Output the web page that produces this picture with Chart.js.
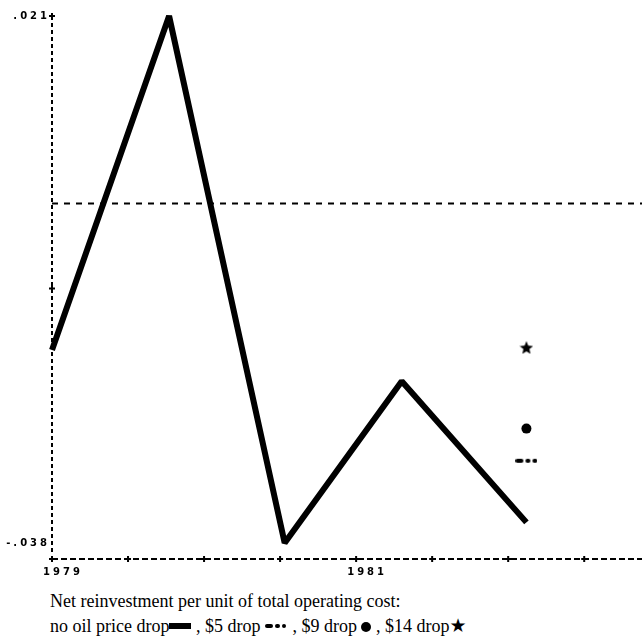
<!DOCTYPE html>
<html>
<head>
<meta charset="utf-8">
<script src="https://cdn.jsdelivr.net/npm/chart.js@4"></script>
<style>
  html, body { margin: 0; padding: 0; background: #fff; }
  #wrap { position: relative; width: 642px; height: 639px; overflow: hidden; }
  #c { position: absolute; left: 0; top: 0; }
  #caption {
    position: absolute; left: 50px; top: 589px;
    font-family: "Liberation Serif", "Times New Roman", serif;
    font-size: 18px; line-height: 25px; color: #000; white-space: nowrap;
  }
  .bar { display: inline-block; width: 22px; height: 6px; background: #000; vertical-align: 3px; }
  .dots { display: inline-block; width: 23px; height: 4px; vertical-align: 4px; line-height: 0; }
  .dots i { display: inline-block; height: 4px; background: #000; border-radius: 2px; margin-right: 2px; }
  .dot { display: inline-block; width: 10px; height: 10px; border-radius: 50%; background: #000; vertical-align: 0px; }
  .star { font-family: "DejaVu Sans", sans-serif; font-size: 19px; line-height: 18px; }
</style>
</head>
<body>
<div id="wrap">
  <canvas id="c" width="642" height="585"></canvas>
  <div id="caption">Net reinvestment per unit of total operating cost:<br>no oil price drop<span class="bar"></span> , $5 drop <span class="dots"><i style="width:8px"></i><i style="width:5px"></i><i style="width:4px"></i></span> , $9 drop <span class="dot"></span> , $14 drop<span class="star">★</span></div>
</div>
<script>
// Observation dates (fractional years) and net reinvestment per unit of operating cost
const years = [1979, 1979.77, 1980.53, 1981.3, 1982.12];
const noDrop = [-0.0164, 0.021, -0.038, -0.0199, -0.0357];

// Oil price drop scenarios, final period only
const scenarioYear = [1982.12];
const drop5 = [-0.0288];
const drop9 = [-0.0252];
const drop14 = [-0.0161];

// Axis ranges and ticks
const xMin = 1979, xMax = 1982.88;
const xTicks = [1979, 1979.5, 1980, 1980.5, 1981, 1981.5, 1982, 1982.5];
const xTickLabels = { 1979: '1979', 1981: '1981' };
const yMin = -0.0398, yMax = 0.021;
const yTicks = [-0.038, -0.0095, 0.021];
const yTickLabels = { '-0.038': '-.038', '0.021': '.021' };
const yPlusTicks = [0.021, -0.0095];

// Custom marker images
function makeStar(size) {
  const c = document.createElement('canvas');
  c.width = c.height = size;
  const g = c.getContext('2d');
  const cx = size / 2, cy = size / 2 + 0.8, R = size / 2, r = R * 0.45;
  g.beginPath();
  for (let i = 0; i < 10; i++) {
    const a = -Math.PI / 2 + i * Math.PI / 5;
    const rad = i % 2 === 0 ? R : r;
    g.lineTo(cx + rad * Math.cos(a), cy + rad * Math.sin(a));
  }
  g.closePath();
  g.fillStyle = '#000';
  g.fill();
  return c;
}
function makeDashMark() {
  const c = document.createElement('canvas');
  c.width = 22; c.height = 6;
  const g = c.getContext('2d');
  g.fillStyle = '#000';
  const segs = [[0, 8], [10, 5], [17, 5]];
  segs.forEach(([x0, w]) => {
    g.beginPath();
    g.roundRect(x0, 1, w, 4, 2);
    g.fill();
  });
  return c;
}

const frame = {
  id: 'frame',
  beforeDraw(chart) {
    chart.ctx.letterSpacing = '3px';
    chart.ctx.miterLimit = 1.5;
  },
  beforeDatasetsDraw(chart) {
    const { ctx, chartArea: a, scales: { x, y } } = chart;
    ctx.save();
    ctx.strokeStyle = '#000';
    ctx.lineWidth = 2;
    // vertical axis, dotted
    ctx.setLineDash([4, 3]);
    ctx.beginPath();
    ctx.moveTo(a.left, a.top);
    ctx.lineTo(a.left, a.bottom - 4);
    ctx.stroke();
    // horizontal axis, dashed
    ctx.setLineDash([6, 3]);
    ctx.beginPath();
    ctx.moveTo(a.left, a.bottom);
    ctx.lineTo(a.right, a.bottom);
    ctx.stroke();
    ctx.setLineDash([]);
    const plus = (px, py) => {
      ctx.beginPath();
      ctx.moveTo(px - 3, py); ctx.lineTo(px + 3, py);
      ctx.moveTo(px, py - 3); ctx.lineTo(px, py + 3);
      ctx.stroke();
    };
    xTicks.forEach(v => plus(x.getPixelForValue(v), a.bottom));
    yPlusTicks.forEach(v => plus(a.left, y.getPixelForValue(v)));
    ctx.restore();
  }
};

const tickFont = { family: 'DejaVu Sans', size: 10, weight: 'bold' };

new Chart(document.getElementById('c'), {
  type: 'line',
  data: {
    datasets: [
      {
        data: [{ x: xMin, y: 0 }, { x: xMax, y: 0 }],
        borderColor: '#000', borderWidth: 2, borderDash: [6, 6],
        pointRadius: 0
      },
      {
        data: years.map((t, i) => ({ x: t, y: noDrop[i] })),
        borderColor: '#000', borderWidth: 6, borderJoinStyle: 'miter', borderCapStyle: 'butt',
        tension: 0, pointRadius: 0, clip: false
      },
      {
        data: scenarioYear.map((t, i) => ({ x: t, y: drop5[i] })),
        showLine: false, pointStyle: makeDashMark(), pointRadius: 6
      },
      {
        data: scenarioYear.map((t, i) => ({ x: t, y: drop9[i] })),
        showLine: false, pointStyle: 'circle', pointRadius: 5,
        pointBackgroundColor: '#000', pointBorderColor: '#000', pointBorderWidth: 0
      },
      {
        data: scenarioYear.map((t, i) => ({ x: t, y: drop14[i] })),
        showLine: false, pointStyle: makeStar(14), pointRadius: 7
      }
    ]
  },
  options: {
    responsive: false,
    animation: false,
    events: [],
    layout: { autoPadding: false, padding: { top: 16, right: 0, left: 0, bottom: 0 } },
    plugins: { legend: { display: false }, tooltip: { enabled: false } },
    scales: {
      x: {
        type: 'linear', min: xMin, max: xMax,
        afterBuildTicks: s => { s.ticks = xTicks.map(v => ({ value: v })); },
        afterFit: s => { s.height = 26; s.paddingLeft = 0; s.paddingRight = 0; },
        grid: { display: false, drawTicks: false },
        border: { display: false },
        ticks: {
          color: '#000', font: tickFont, padding: 7, labelOffset: 11,
          autoSkip: false, maxRotation: 0,
          callback: v => xTickLabels[v] || ''
        }
      },
      y: {
        type: 'linear', min: yMin, max: yMax,
        afterBuildTicks: s => { s.ticks = yTicks.map(v => ({ value: v })); },
        afterFit: s => { s.width = 52; s.paddingTop = 0; s.paddingBottom = 0; },
        grid: { display: false, drawTicks: false },
        border: { display: false },
        ticks: {
          color: '#000', font: tickFont, padding: 2,
          autoSkip: false,
          callback: v => yTickLabels[String(v)] || ''
        }
      }
    }
  },
  plugins: [frame]
});
</script>
</body>
</html>
